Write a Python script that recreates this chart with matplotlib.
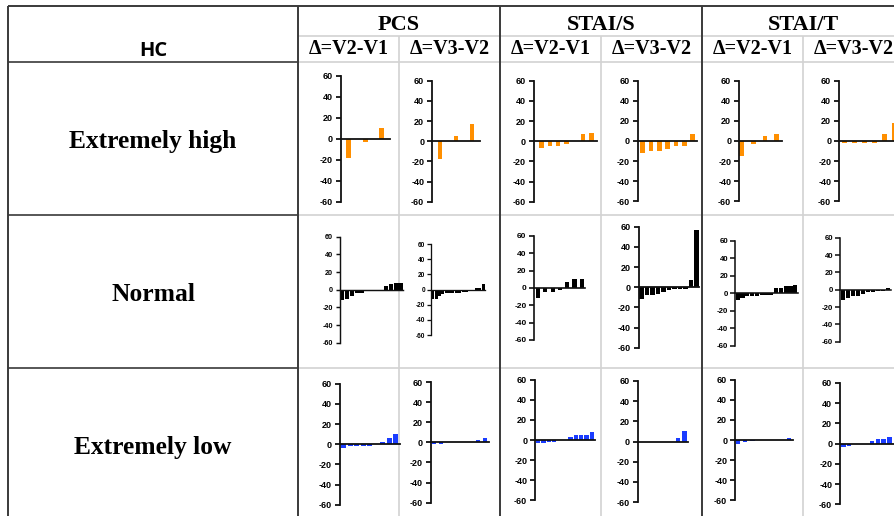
import matplotlib
matplotlib.use("Agg")
import matplotlib.pyplot as plt

# figure size in pixels
W, H = 894, 516
plt.rcParams['axes.unicode_minus'] = False

# values (change scores, sorted)
high_pcs_v21 = [-18, -3, 10]
high_pcs_v32 = [-18, 5, 17]
high_stais_v21 = [-7, -5, -5, -3, 0, 7, 8]
high_stais_v32 = [-12, -10, -10, -8, -5, -5, 7]
high_stait_v21 = [-15, -3, 5, 7]
high_stait_v32 = [-2, -2, -2, -2, 7, 18]

normal_pcs_v21 = [-12, -10, -7, -4, -4, -2, -2, -1, 0, 4, 6, 8, 8]
normal_pcs_v32 = [-12, -12, -8, -6, -5, -5, -4, -4, -4, -3, -3, -2, -2, 2, 2, 7]
normal_stais_v21 = [-12, -5, -5, -2, 7, 10, 10]
normal_stais_v32 = [-12, -8, -8, -7, -5, -3, -2, -2, -2, 7, 57]
normal_stait_v21 = [-8, -6, -3, -3, -3, -2, -2, -2, 6, 6, 8, 8, 9]
normal_stait_v32 = [-12, -10, -7, -7, -5, -3, -3, -2, -1, 2]

low_pcs_v21 = [-4, -2, -2, -2, -2, 0, 2, 6, 10]
low_pcs_v32 = [-2, -2, 0, 0, 0, 0, 2, 4]
low_stais_v21 = [-3, -3, -2, -2, 0, 0, 3, 5, 5, 5, 8]
low_stais_v32 = [-0.5, -0.5, -0.5, -0.5, -0.5, -0.5, 3, 10]
low_stait_v21 = [-4, -2, -1, 0, 0, 0, 0, 2]
low_stait_v32 = [-3, -2, -0.5, -0.5, -0.5, 3, 5, 5, 7]

groups = ['PCS', 'STAI/S', 'STAI/T']
subheads = ['\u0394=V2-V1', '\u0394=V3-V2']
row_labels = ['Extremely high', 'Normal', 'Extremely low']
yticks = [-60, -40, -20, 0, 20, 40, 60]

rows = [
    [high_pcs_v21, high_pcs_v32, high_stais_v21, high_stais_v32, high_stait_v21, high_stait_v32],
    [normal_pcs_v21, normal_pcs_v32, normal_stais_v21, normal_stais_v32, normal_stait_v21, normal_stait_v32],
    [low_pcs_v21, low_pcs_v32, low_stais_v21, low_stais_v32, low_stait_v21, low_stait_v32],
]
row_colors = ['#ff8f00', 'black', '#1a3cff']

# placement of each small plot in pixels: left, top(60), right, bottom(-60), xlim lo, xlim hi, bar width, font size
boxes = [
    [(340.7, 75.7, 389.7, 201.7, -0.5, 2.47, 0.3, 6.5),
     (432.3, 80.7, 479.7, 201.7, -0.48, 2.48, 0.27, 6.5),
     (534.0, 80.7, 597.0, 201.7, -0.88, 6.68, 0.52, 6.5),
     (637.7, 80.7, 697.0, 201.3, -0.6, 6.52, 0.56, 6.5),
     (739.3, 80.7, 782.0, 201.3, -0.2, 3.45, 0.4, 6.5),
     (839.3, 80.7, 900.0, 201.3, -0.5, 5.57, 0.47, 6.5)],
    [(339.7, 236.7, 403.0, 342.7, -0.5, 12.5, 0.9, 5.2),
     (431.3, 244.0, 484.7, 335.0, -0.5, 15.5, 0.9, 4.7),
     (534.0, 236.0, 585.3, 340.0, -0.55, 6.48, 0.55, 6.0),
     (638.7, 226.7, 699.3, 347.7, -0.5, 10.5, 0.85, 6.5),
     (735.3, 240.7, 797.7, 345.7, -0.5, 12.5, 0.9, 5.7),
     (840.3, 237.7, 891.0, 341.7, -0.5, 9.5, 0.8, 5.6)],
    [(339.7, 383.7, 399.7, 504.7, -0.65, 8.6, 0.75, 6.5),
     (430.7, 382.0, 489.0, 502.7, -0.45, 7.54, 0.6, 6.5),
     (535.3, 379.7, 594.7, 500.3, -0.5, 10.5, 0.85, 6.5),
     (637.7, 381.0, 687.7, 502.0, -0.5, 7.56, 0.75, 6.5),
     (735.3, 379.7, 792.7, 500.3, -0.37, 7.49, 0.6, 6.5),
     (840.3, 383.0, 900.0, 504.3, -0.5, 9.8, 0.8, 6.5)],
]

fig = plt.figure(figsize=(W / 100, H / 100), dpi=100)

# table grid drawn in pixel coords
bg = fig.add_axes([0, 0, 1, 1])
bg.set_xlim(0, W)
bg.set_ylim(H, 0)
bg.axis('off')

dark = '#3a3a3a'
light = '#d2d2d2'
bg.hlines([36, 62, 214.5, 367.5], 298, W, color=light, lw=1.2)
bg.vlines([399, 601, 803], 36, H, color=light, lw=1.2)
bg.hlines([62, 214.5, 367.5], 8, 298, color=dark, lw=1.2)
bg.hlines(6, 8, W, color=dark, lw=1.4)
bg.vlines([8, 298, 500, 702], 6, H, color=dark, lw=1.4)

serif = 'Liberation Serif'
bg.text(153, 56, 'HC', family='Open Sans', weight='bold', fontsize=14.5, ha='center', va='baseline')
for i, g in enumerate(groups):
    cx = 399 + 202 * i
    bg.text(cx, 30, g, family=serif, weight='bold', fontsize=16, ha='center', va='baseline')
    for j, s in enumerate(subheads):
        bg.text(cx - 50.5 + 101 * j, 54.5, s, family=serif, weight='bold', fontsize=14.5,
                ha='center', va='baseline')
for i, lab in enumerate(row_labels):
    bg.text(153, 148.3 + 153 * i, lab, family=serif, weight='bold', fontsize=18.4,
            ha='center', va='baseline')


def mini(vals, box, color):
    L, T, R, B, lo, hi, bw, fs = box
    ax = fig.add_axes([L / W, 1 - B / H, (R - L) / W, (B - T) / H])
    ax.patch.set_alpha(0)
    ax.bar(range(len(vals)), vals, width=bw, color=color, lw=0)
    ax.set_xlim(lo, hi)
    ax.set_ylim(-60, 60)
    lw = fs * 0.2
    for side in ['top', 'right']:
        ax.spines[side].set_visible(False)
    ax.spines['bottom'].set_position(('data', 0))
    ax.spines['bottom'].set_linewidth(lw)
    ax.spines['left'].set_linewidth(lw)
    ax.spines['bottom'].set_color('#111111')
    ax.spines['left'].set_color('#111111')
    ax.set_xticks([])
    ax.set_yticks(yticks)
    ax.set_yticklabels([str(t) for t in yticks], family='Liberation Sans', weight='bold', fontsize=fs)
    ax.tick_params(axis='y', length=fs * 0.6, width=lw, pad=fs * 0.3, color='#111111')
    return ax


for r in range(3):
    for c in range(6):
        mini(rows[r][c], boxes[r][c], row_colors[r])

fig.savefig('out.png', dpi=100)
